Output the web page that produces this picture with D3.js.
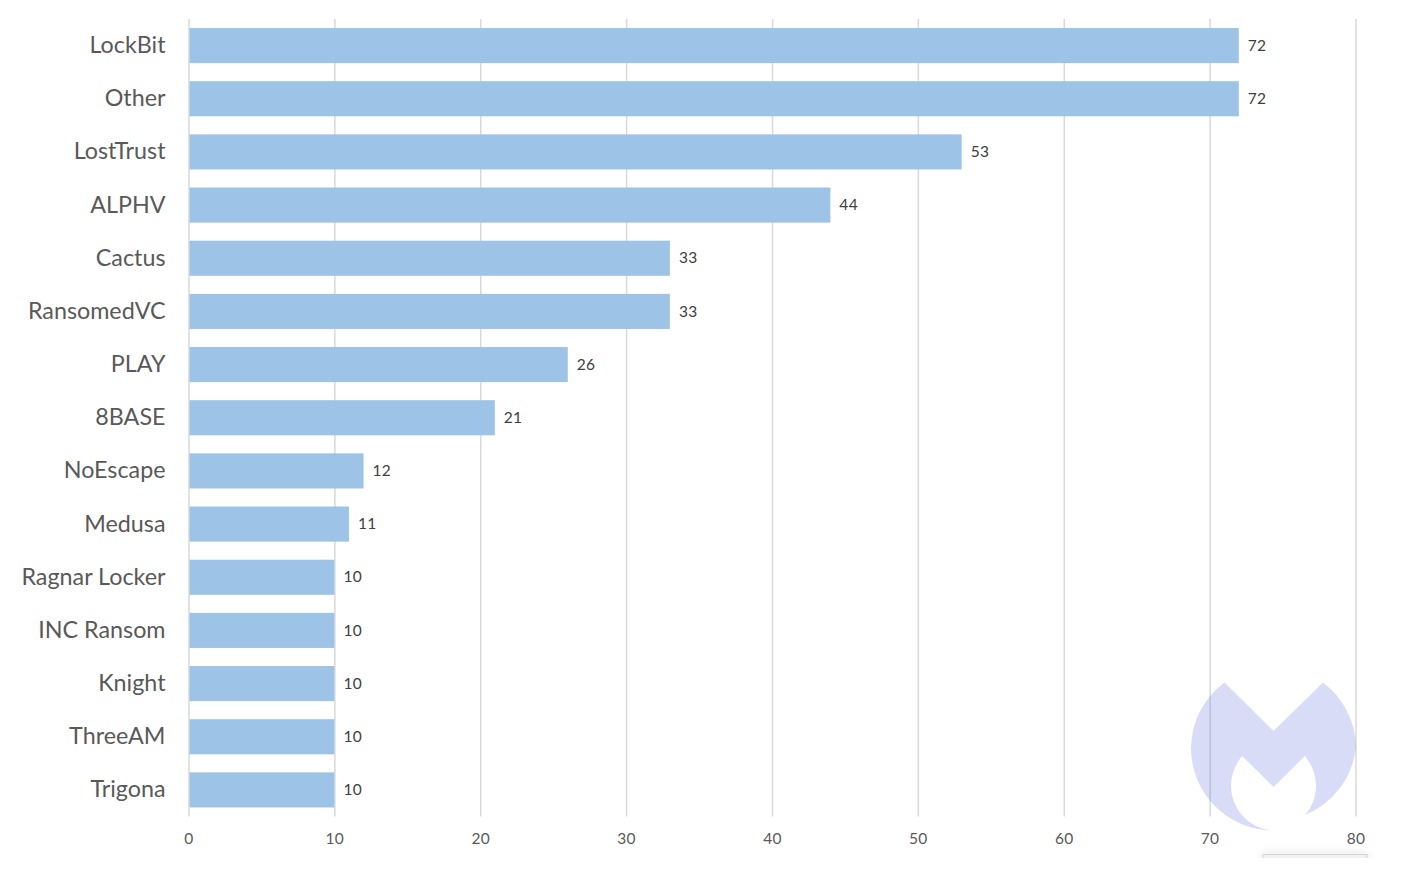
<!DOCTYPE html>
<html>
<head>
<meta charset="utf-8">
<script src="https://cdn.jsdelivr.net/npm/d3@7"></script>
<style>
  html, body { margin: 0; padding: 0; background: #fff; }
  svg text { font-family: Lato, "Open Sans", sans-serif; }
  svg { display: block; }
  .x-axis .domain, .y-axis .domain, .y-axis line { display: none; }
  .x-axis line { stroke: #d9d9d9; stroke-width: 1.5; }
  .x-axis text { fill: #595959; font-size: 15.5px; letter-spacing: 0.3px; }
  .y-axis text { fill: #595959; font-size: 23.3px; }
  .value { fill: #404040; font-size: 15.5px; letter-spacing: 0.3px; }
</style>
</head>
<body>
<div id="chart"></div>
<script>
var gangs = ["LockBit", "Other", "LostTrust", "ALPHV", "Cactus", "RansomedVC", "PLAY", "8BASE",
  "NoEscape", "Medusa", "Ragnar Locker", "INC Ransom", "Knight", "ThreeAM", "Trigona"];
var attacks = [72, 72, 53, 44, 33, 33, 26, 21, 12, 11, 10, 10, 10, 10, 10];
var xTicks = [0, 10, 20, 30, 40, 50, 60, 70, 80];

var svgWidth = 1402;
var svgHeight = 877;

var margin = { top: 19, right: 46.5, bottom: 60.5, left: 188.5 };

var width = svgWidth - margin.left - margin.right;
var height = svgHeight - margin.top - margin.bottom;

var svg = d3.select("#chart")
  .append("svg")
  .attr("width", svgWidth)
  .attr("height", svgHeight);

var chartGroup = svg.append("g")
  .attr("transform", `translate(${margin.left}, ${margin.top})`);

var xScale = d3.scaleLinear().domain([0, 80]).range([0, width]);

var yScale = d3.scaleBand()
  .domain(gangs)
  .range([0, height])
  .paddingInner(0.34)
  .paddingOuter(0.17);

// gridlines come from the axis ticks
chartGroup.append("g")
  .attr("class", "x-axis")
  .attr("transform", `translate(0, ${height})`)
  .call(d3.axisBottom(xScale).tickValues(xTicks).tickSize(-height).tickPadding(16));

chartGroup.append("g")
  .attr("class", "y-axis")
  .call(d3.axisLeft(yScale).tickSize(0).tickPadding(23));

chartGroup.selectAll(".bar")
  .data(gangs)
  .enter()
  .append("rect")
  .attr("class", "bar")
  .attr("x", 1)
  .attr("y", d => yScale(d))
  .attr("width", (d, i) => xScale(attacks[i]) - 1)
  .attr("height", yScale.bandwidth())
  .attr("fill", "#9dc3e6");

chartGroup.selectAll(".value")
  .data(gangs)
  .enter()
  .append("text")
  .attr("class", "value")
  .attr("x", (d, i) => xScale(attacks[i]) + 9)
  .attr("y", d => yScale(d) + yScale.bandwidth() / 2)
  .attr("dy", "0.33em")
  .text((d, i) => attacks[i]);

// watermark logo
svg.append("path")
  .attr("d", "M1224.5,682.5 A82.5,82.5 0 0 0 1191,747 A82.5,82.5 0 0 0 1273,830.5 C1250,829 1231,810 1231,785 C1231,775 1235,765 1242,756 L1273.5,787 L1305,756 C1312,765 1316,775 1316,785 C1316,797 1312,807 1305,815 A82.5,82.5 0 0 0 1356,747 A82.5,82.5 0 0 0 1323,682.5 L1273.5,731 Z")
  .attr("fill", "#5a68d8")
  .attr("fill-opacity", 0.23);

// bit of a popup showing at the bottom edge of the screenshot
var defs = svg.append("defs");
defs.append("filter").attr("id", "popupShadow")
  .attr("x", "-20%").attr("y", "-200%").attr("width", "140%").attr("height", "500%")
  .append("feGaussianBlur").attr("stdDeviation", 6);
defs.append("clipPath").attr("id", "popupClip")
  .append("rect").attr("x", 1240).attr("y", 830).attr("width", 150).attr("height", 28);

var popup = svg.append("g").attr("clip-path", "url(#popupClip)");
popup.append("rect")
  .attr("x", 1263).attr("y", 854.5).attr("width", 104).attr("height", 20)
  .attr("fill", "#000").attr("fill-opacity", 0.12)
  .attr("filter", "url(#popupShadow)");
popup.append("rect")
  .attr("x", 1263).attr("y", 854.5).attr("width", 104).attr("height", 20)
  .attr("fill", "#f2f2f2").attr("stroke", "#d4d4d4");
</script>
</body>
</html>
